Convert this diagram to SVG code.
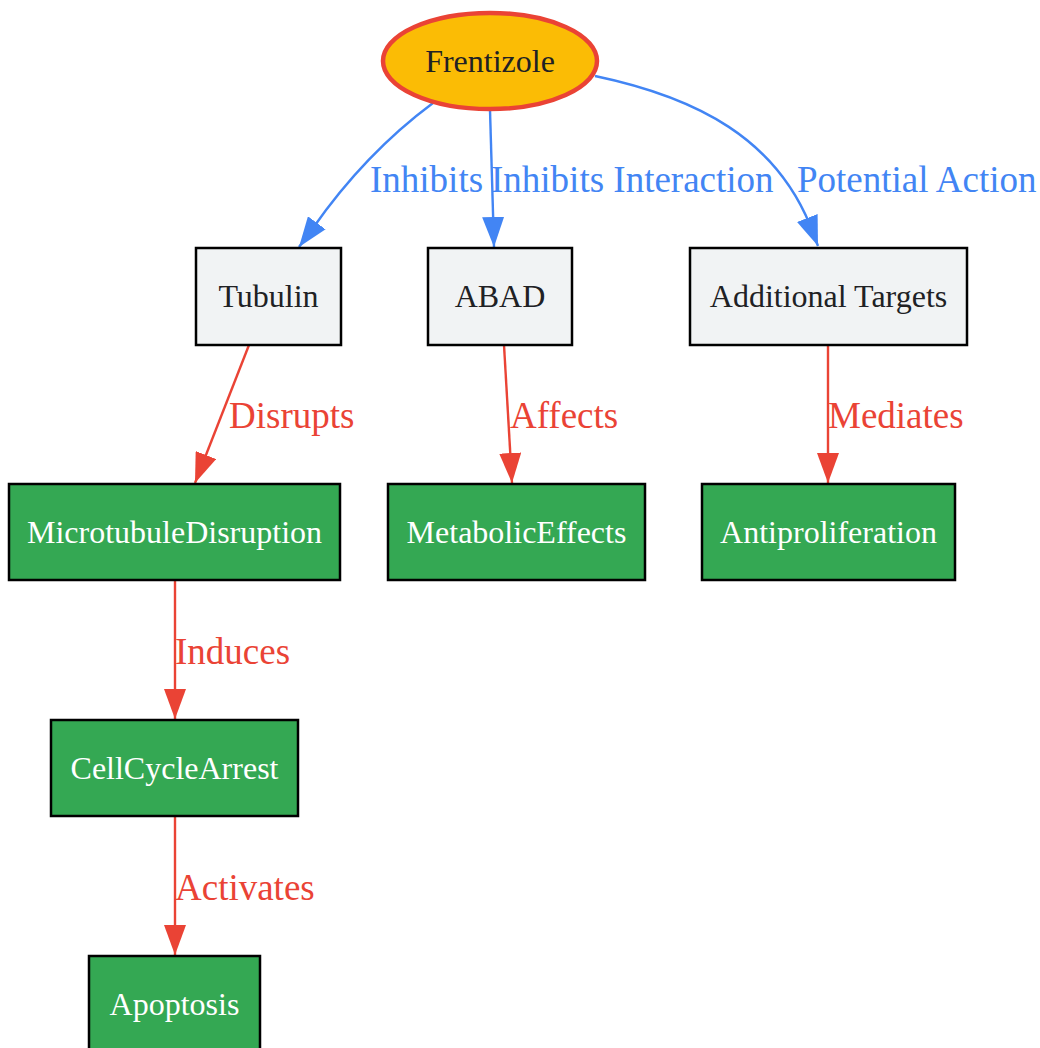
<svg xmlns="http://www.w3.org/2000/svg" width="1040" height="1048" viewBox="0 0 1040 1048">
<style>
.nt{font-family:"Liberation Serif","Times New Roman",serif;font-size:32px;text-anchor:middle}
.dark{fill:#202124}
.light{fill:#ffffff}
.grey{fill:#F1F3F4;stroke:#000000;stroke-width:2.5}
.green{fill:#34A853;stroke:#000000;stroke-width:2.5}
.el{font-family:"Liberation Serif","Times New Roman",serif;font-size:37px}
.blue{stroke:#4285F4;stroke-width:2.4;fill:none}
.red{stroke:#EA4335;stroke-width:2.4;fill:none}
</style>
<defs>
<marker id="ab" viewBox="0 0 30 22" refX="30" refY="11" markerWidth="30" markerHeight="22" markerUnits="userSpaceOnUse" orient="auto"><path d="M0,0 L30,11 L0,22 z" fill="#4285F4"/></marker>
<marker id="ar" viewBox="0 0 30 22" refX="30" refY="11" markerWidth="30" markerHeight="22" markerUnits="userSpaceOnUse" orient="auto"><path d="M0,0 L30,11 L0,22 z" fill="#EA4335"/></marker>
</defs>
<rect width="1040" height="1048" fill="#ffffff"/>
<g id="connectors">
<path class="blue" d="M433,103 C390,135 350,175 313,228 L299,247" marker-end="url(#ab)"/>
<text class="el" fill="#4285F4" x="370" y="192">Inhibits</text>
<path class="blue" d="M490,110 L494,247" marker-end="url(#ab)"/>
<text class="el" fill="#4285F4" x="491" y="192">Inhibits Interaction</text>
<path class="blue" d="M595,76 C700,98 775,140 810,225 L818,246" marker-end="url(#ab)"/>
<text class="el" fill="#4285F4" x="797" y="192">Potential Action</text>
<path class="red" d="M249,345 L195,483" marker-end="url(#ar)"/>
<text class="el" fill="#EA4335" x="229" y="428">Disrupts</text>
<path class="red" d="M504,345 L512,483" marker-end="url(#ar)"/>
<text class="el" fill="#EA4335" x="510" y="428">Affects</text>
<path class="red" d="M828,345 L828,483" marker-end="url(#ar)"/>
<text class="el" fill="#EA4335" x="828" y="428">Mediates</text>
<path class="red" d="M175,580 L175,719" marker-end="url(#ar)"/>
<text class="el" fill="#EA4335" x="175" y="664">Induces</text>
<path class="red" d="M175,816 L175,955" marker-end="url(#ar)"/>
<text class="el" fill="#EA4335" x="175" y="900">Activates</text>
</g>
<g id="node-frentizole">
<ellipse cx="490" cy="61" rx="107" ry="48" fill="#FBBC05" stroke="#EA4335" stroke-width="4.5"/>
<text class="nt dark" x="490" y="72">Frentizole</text>
</g>
<g id="node-tubulin">
<rect class="grey" x="196" y="248" width="145" height="97"/>
<text class="nt dark" x="268.5" y="307">Tubulin</text>
</g>
<g id="node-abad">
<rect class="grey" x="428" y="248" width="144" height="97"/>
<text class="nt dark" x="500" y="307">ABAD</text>
</g>
<g id="node-additional">
<rect class="grey" x="690" y="248" width="277" height="97"/>
<text class="nt dark" x="828.5" y="307">Additional Targets</text>
</g>
<g id="node-microtubule">
<rect class="green" x="9" y="484" width="331" height="96"/>
<text class="nt light" x="174.5" y="543">MicrotubuleDisruption</text>
</g>
<g id="node-metabolic">
<rect class="green" x="388" y="484" width="257" height="96"/>
<text class="nt light" x="516.5" y="543">MetabolicEffects</text>
</g>
<g id="node-antiproliferation">
<rect class="green" x="702" y="484" width="253" height="96"/>
<text class="nt light" x="828.5" y="543">Antiproliferation</text>
</g>
<g id="node-cellcycle">
<rect class="green" x="51" y="720" width="247" height="96"/>
<text class="nt light" x="174.5" y="779">CellCycleArrest</text>
</g>
<g id="node-apoptosis">
<rect class="green" x="89" y="956" width="171" height="96"/>
<text class="nt light" x="174.5" y="1015">Apoptosis</text>
</g>
</svg>
